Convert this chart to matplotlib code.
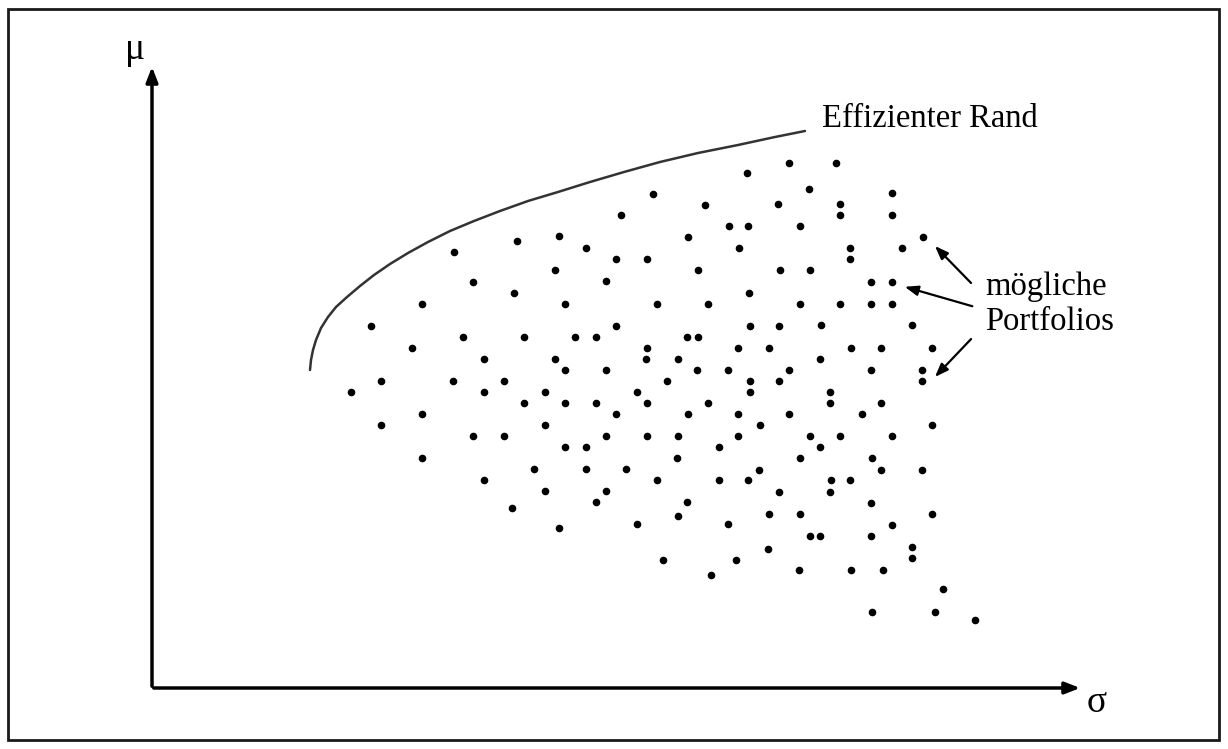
import matplotlib.pyplot as plt
from matplotlib.patches import Rectangle

# portfolio dots (sigma, mu) in picture units, y grows downwards
sigma = [517, 454, 473, 514, 422,
         747, 653, 705, 621, 729, 748, 559, 688, 586, 739, 616, 647, 555, 698, 606, 749, 565, 657, 708,
         789, 836, 809, 892, 778, 840, 840, 892, 800, 923, 850, 902, 850, 780, 810, 871, 892, 800, 840, 871, 892,
         821, 912, 851, 881, 932, 820, 871, 922, 922, 830, 830, 881, 862,
         750, 779, 769, 789, 750, 779, 750, 789, 760, 932, 810, 840, 892, 820, 800, 872, 759, 881, 922, 831, 850,
         616, 575, 596, 687, 698, 647, 738, 555, 646, 678, 565, 606, 697, 728, 667, 545, 637, 565, 596, 647, 708,
         616, 688, 738, 545, 606, 647, 678, 738, 565, 586, 719, 677, 586, 626, 657, 719, 748,
         371, 463, 524, 412, 484, 381, 453, 504, 351, 484, 524, 422, 381, 473, 504, 422, 534, 484,
         545, 512, 606, 596, 687, 678, 559, 637, 728, 663, 736, 711,
         779, 830, 871, 769, 800, 932, 892, 810, 820, 871, 912, 912, 768, 799, 851, 883, 943, 872, 935, 975]
mu = [241, 252, 282, 293, 304,
      173, 194, 205, 215, 226, 226, 236, 237, 248, 248, 259, 259, 270, 270, 281, 293, 304, 304, 304,
      163, 163, 189, 193, 204, 204, 215, 215, 226, 237, 248, 248, 259, 270, 270, 282, 282, 304, 304, 304, 304,
      325, 325, 348, 348, 348, 359, 370, 370, 381, 392, 403, 403, 414,
      326, 326, 348, 370, 381, 381, 392, 414, 425, 425, 436, 436, 436, 447, 458, 458, 470, 470, 470, 480, 480,
      326, 337, 337, 337, 337, 348, 348, 359, 359, 359, 370, 370, 370, 370, 381, 392, 392, 403, 403, 403, 403,
      414, 414, 414, 425, 436, 436, 436, 436, 447, 447, 447, 458, 469, 469, 480, 480, 480,
      326, 337, 337, 348, 359, 381, 381, 381, 392, 392, 403, 414, 425, 436, 436, 458, 469, 480,
      491, 508, 491, 502, 502, 516, 528, 524, 524, 560, 560, 575,
      492, 492, 503, 514, 514, 514, 525, 536, 536, 536, 547, 558, 549, 570, 570, 570, 589, 612, 612, 620]

# efficient frontier
front_x = [310, 311, 313, 316, 321, 328, 336, 347, 360, 374, 390, 408, 428, 450, 474, 500, 528, 558,
           590, 624, 660, 698, 738, 775, 805]
front_y = [370, 360, 350, 340, 328, 317, 307, 297, 286, 275, 264, 253, 242, 231, 221, 211, 201, 192,
           182, 172, 162, 153, 145, 137, 131]

serif = ['Liberation Serif', 'DejaVu Serif']

fig = plt.figure(figsize=(12.28, 7.49), dpi=100)
ax = fig.add_axes([0, 0, 1, 1])
ax.set_xlim(0, 1228)
ax.set_ylim(749, 0)
ax.axis('off')

ax.add_patch(Rectangle((8, 9), 1211, 731, fill=False, lw=2, ec='#1a1a1a'))

# axes with arrows
ax.annotate('', xy=(152, 64), xytext=(152, 689),
            arrowprops=dict(arrowstyle='-|>,head_length=0.9,head_width=0.35', lw=2.5, color='black'))
ax.annotate('', xy=(1083, 688), xytext=(151, 688),
            arrowprops=dict(arrowstyle='-|>,head_length=0.9,head_width=0.35', lw=2.5, color='black'))
ax.text(135, 50, 'μ', family=serif, fontsize=27, ha='center', va='center')
ax.text(1097, 703, 'σ', family=serif, fontsize=27, ha='center', va='center')

ax.plot(front_x, front_y, color='#333333', lw=1.8, solid_capstyle='round')
ax.scatter(sigma, mu, s=20, color='black', zorder=3)

ax.text(822, 127, 'Effizienter Rand', family=serif, fontsize=23.5, ha='left', va='baseline')
ax.text(985, 295, 'mögliche', family=serif, fontsize=23.5, ha='left', va='baseline')
ax.text(985, 330, 'Portfolios', family=serif, fontsize=23.5, ha='left', va='baseline')

arr = dict(arrowstyle='-|>,head_length=0.8,head_width=0.3', lw=1.6, color='black')
ax.annotate('', xy=(933, 244), xytext=(973, 285), arrowprops=arr)
ax.annotate('', xy=(902, 286), xytext=(975, 307), arrowprops=arr)
ax.annotate('', xy=(933, 379), xytext=(973, 337), arrowprops=arr)

fig.savefig('out.png', dpi=100)
